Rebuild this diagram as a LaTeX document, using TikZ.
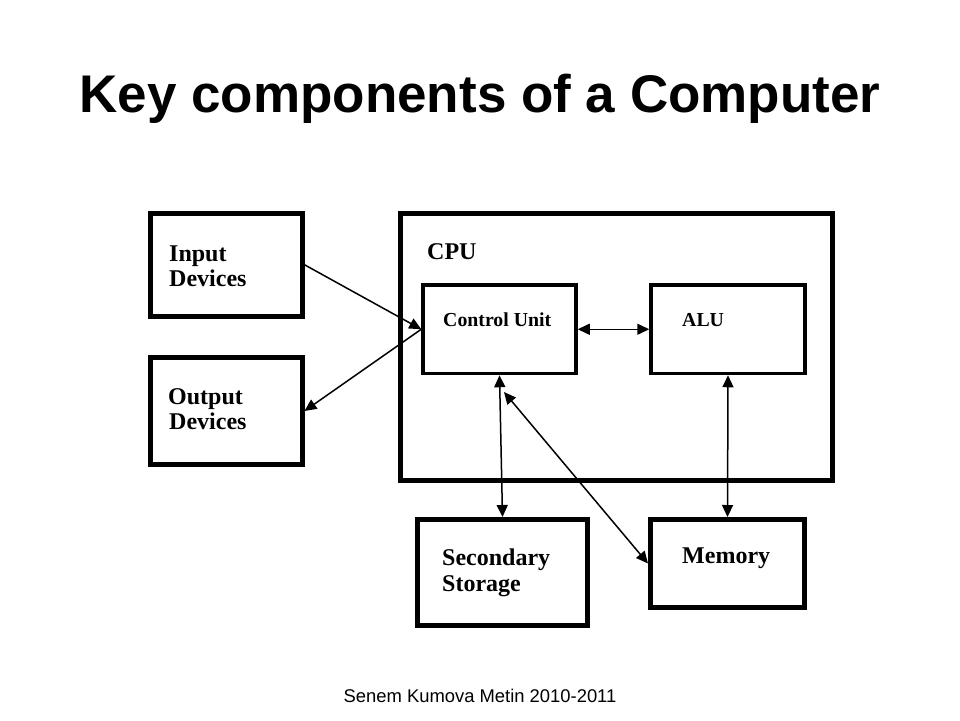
\documentclass[tikz,border=0pt]{standalone}
\usepackage{fontspec}
\setmainfont{Liberation Serif}
\newfontfamily\arialf{Liberation Sans}
\usetikzlibrary{arrows.meta}
\begin{document}
\begin{tikzpicture}[x=1pt,y=-1pt,
 box/.style={draw, line width=5pt, inner sep=0pt},
 ibox/.style={draw, line width=3.5pt, inner sep=0pt},
 lbl/.style={anchor=base west, inner sep=0pt, font=\fontsize{24}{25}\selectfont\bfseries},
 slbl/.style={anchor=base west, inner sep=0pt, font=\fontsize{19.8}{21}\selectfont\bfseries},
 tip/.tip={Triangle[length=12pt,width=11pt]},
 conn/.style={line width=1.5pt},
 ]
\useasboundingbox[fill=white] (0,0) rectangle (960,720);
% title and footer
\node[font=\arialf\bfseries\fontsize{53}{60}\selectfont, anchor=base, inner sep=0pt] (title) at (480,112) {Key components of a Computer};
\node[font=\arialf\fontsize{18.4}{20}\selectfont, anchor=base, inner sep=0pt] (foot) at (480,702) {Senem Kumova Metin 2010-2011};
% boxes
\node[box, minimum width=152pt, minimum height=102.5pt] (inp) at (226,264.75) {};
\node[box, minimum width=152pt, minimum height=107pt] (outp) at (226,411) {};
\node[box, minimum width=432pt, minimum height=267.5pt] (cpu) at (616.5,346.75) {};
\node[ibox, minimum width=153pt, minimum height=88.5pt] (cu) at (499.5,329.25) {};
\node[ibox, minimum width=154pt, minimum height=88.5pt] (alu) at (728,329.25) {};
\node[box, minimum width=170pt, minimum height=106pt] (sec) at (502.5,572.5) {};
\node[box, minimum width=154pt, minimum height=88pt] (mem) at (727.5,563.5) {};
% labels
\node[lbl] (inA) at (169,261) {Input};
\node[lbl] (inB) at (169,286) {Devices};
\node[lbl] (outA) at (168,404) {Output};
\node[lbl] (outB) at (169,429) {Devices};
\node[lbl] (cpuL) at (427,259) {CPU};
\node[slbl] (cuL) at (443,326) {Control Unit};
\node[slbl] (aluL) at (682,326) {ALU};
\node[lbl] (secA) at (442,565) {Secondary};
\node[lbl] (secB) at (442,591) {Storage};
\node[lbl] (memL) at (682,563) {Memory};
% connectors
\coordinate (cmStart) at (504,392);
\draw[conn,-tip] (inp.east) -- (cu.west);
\draw[conn,-tip] (cu.west) -- (outp.east);
\draw[conn,tip-tip] (cu.east) -- (alu.west);
\draw[conn,tip-tip] (cu.south) -- (sec.north);
\draw[conn,tip-tip] (cmStart) -- (mem.west);
\draw[conn,tip-tip] (alu.south) -- (mem.north);
\end{tikzpicture}
\end{document}
